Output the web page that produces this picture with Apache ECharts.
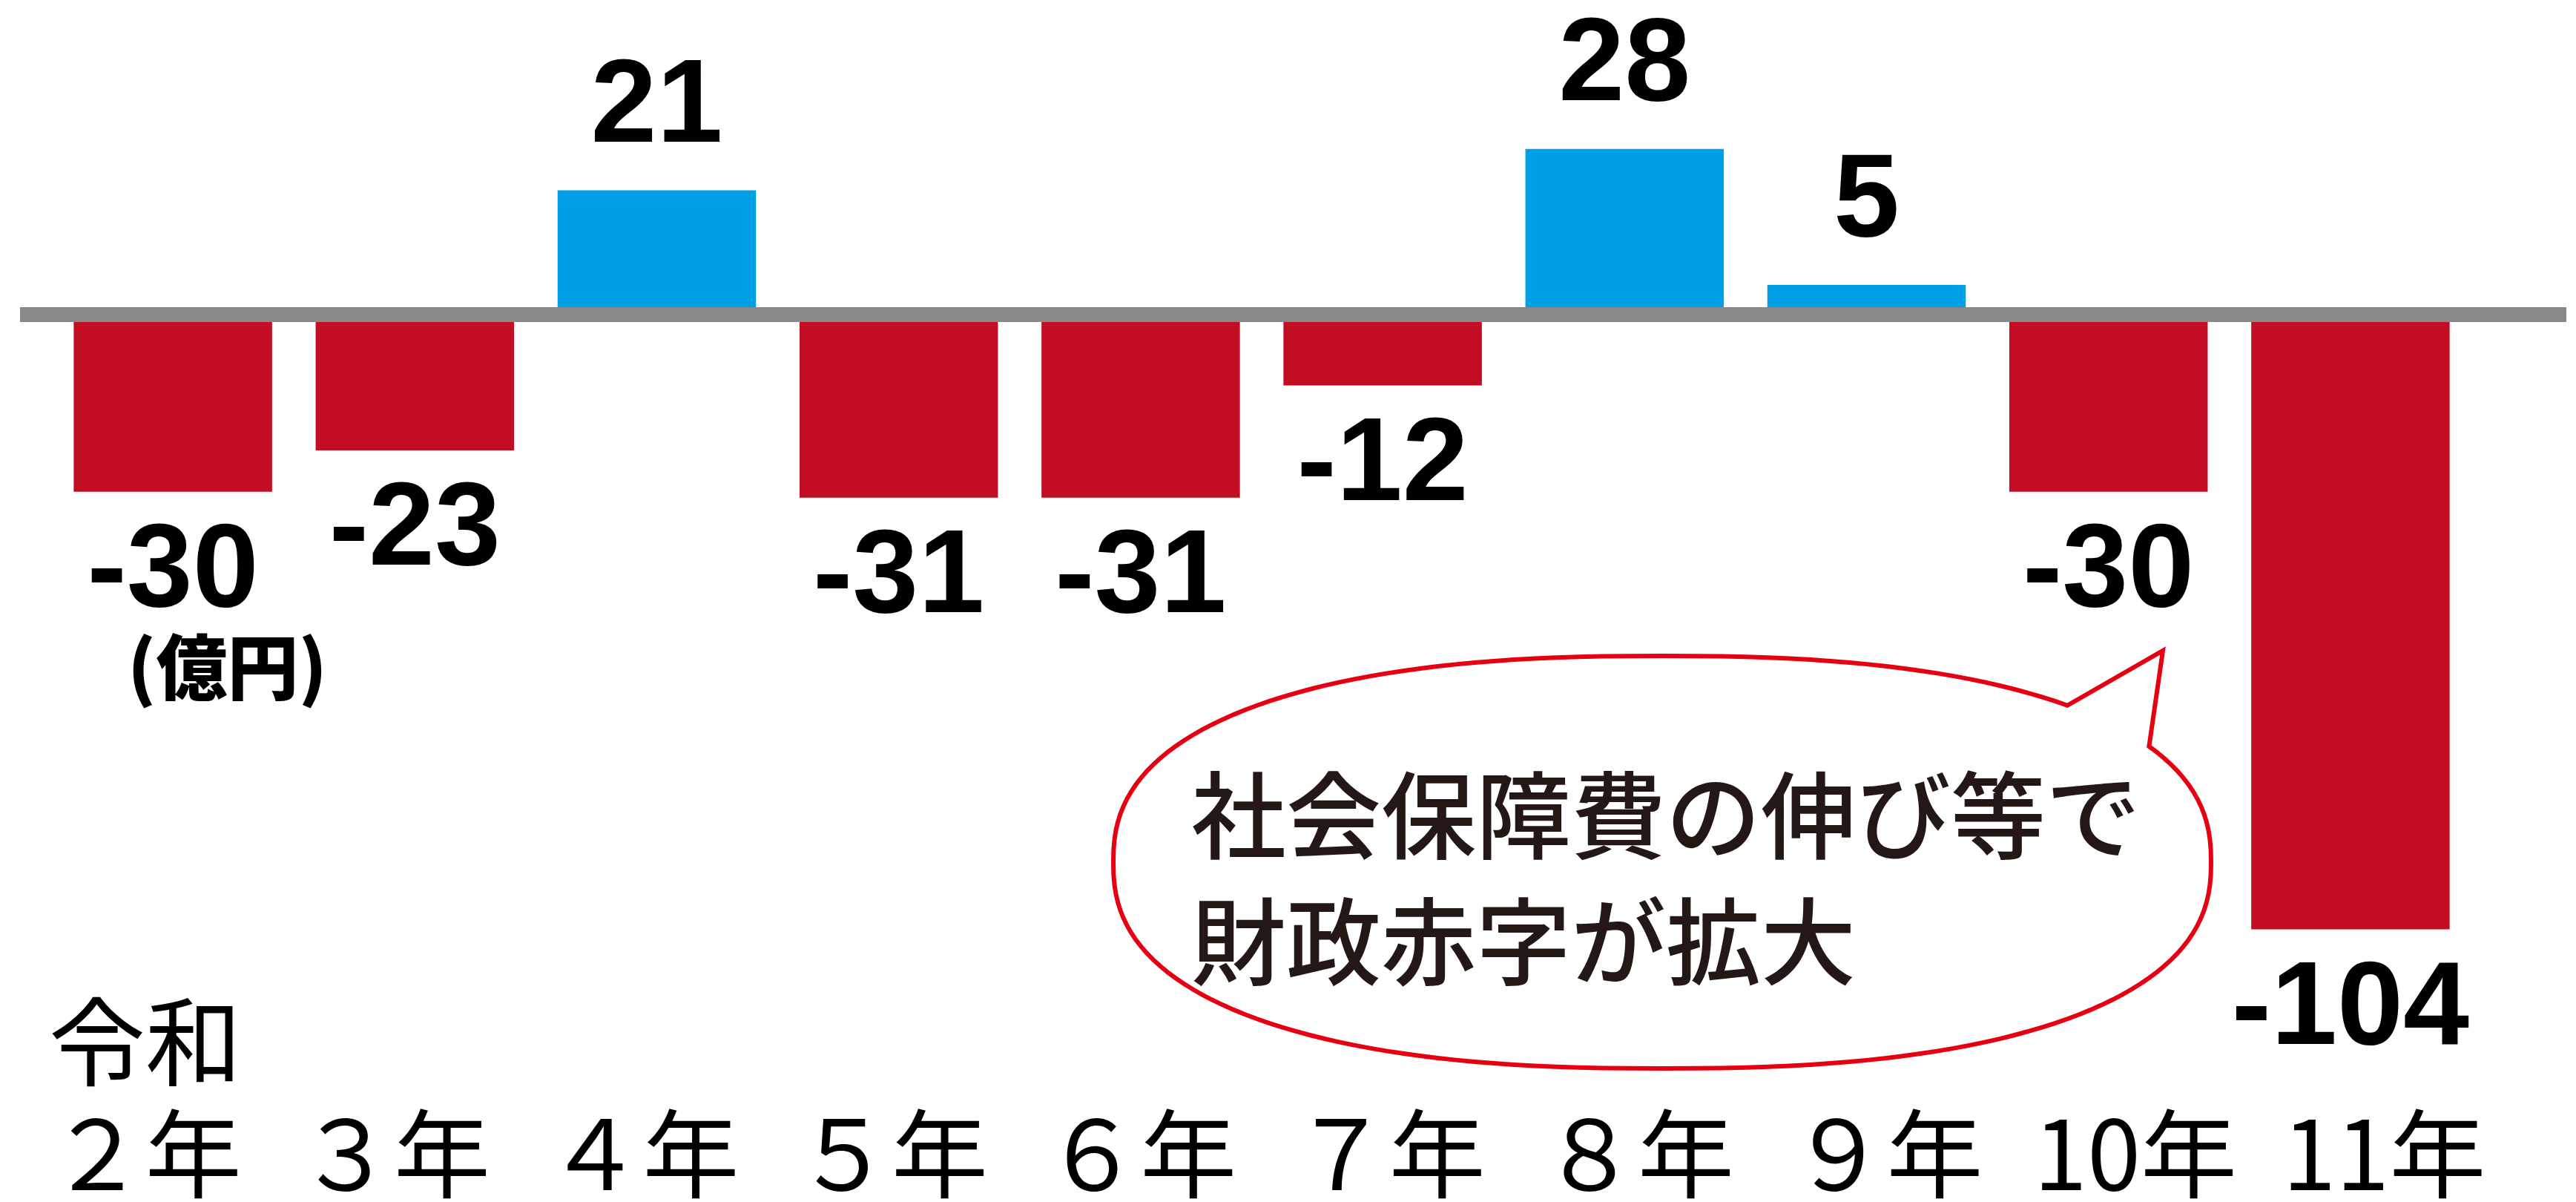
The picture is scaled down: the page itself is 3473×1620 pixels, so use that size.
<!DOCTYPE html>
<html>
<head>
    <meta charset="utf-8">
    <title>財政収支</title>
    <script type="text/javascript" src="https://cdn.jsdelivr.net/npm/echarts@6.0.0/dist/echarts.min.js"></script>
    <style>
        html, body { margin: 0; padding: 0; background: #fff; }
    </style>
</head>
<body>

<div id="demo1" style="width: 3473px; height: 1620px;"></div>

<script>
    // 年度（令和）と収支（億円）
    var years = ['２年', '３年', '４年', '５年', '６年', '７年', '８年', '９年', '10年', '11年'];
    var balance = [-30, -23, 21, -31, -31, -12, 28, 5, -30, -104];
    var yMin = -120;
    var yMax = 40;

    var RED = '#c30d23';
    var BLUE = '#00a0e6';
    var GRAY = '#898989';

    var barData = balance.map(function (v) {
        return {
            value: v,
            itemStyle: {color: v >= 0 ? BLUE : RED},
            label: {position: v >= 0 ? 'top' : 'bottom'}
        };
    });

    // 吹き出し（ふちの形）
    function bubblePoints() {
        var cx = 2241, cy = 1162, a = 740, b = 278, n = 2.4;
        var pts = [];
        for (var d = -30; d <= 315; d += 2) {
            var t = d * Math.PI / 180;
            var c = Math.cos(t), s = Math.sin(t);
            var x = cx + a * Math.sign(c) * Math.pow(Math.abs(c), 2 / n);
            var y = cy + b * Math.sign(s) * Math.pow(Math.abs(s), 2 / n);
            pts.push([x, y]);
        }
        pts.push([2916, 877]);
        return pts;
    }

    var demo1 = echarts.init(document.getElementById('demo1'));
    var option = {
        backgroundColor: '#fff',
        animation: false,
        grid: [
            {left: 70, right: 141, top: 105, bottom: 240},
            {left: 27, right: 13, top: 105, bottom: 240},
            {left: 28, right: 91, top: 1380, bottom: 139}
        ],
        xAxis: [
            {gridIndex: 0, type: 'category', data: years, show: false},
            {
                gridIndex: 1, type: 'category', data: [''], z: 10,
                axisLine: {show: true, onZero: true, lineStyle: {color: GRAY, width: 20, cap: 'butt'}},
                axisTick: {show: false}, axisLabel: {show: false}, splitLine: {show: false}
            },
            {
                gridIndex: 2, type: 'category', data: years,
                axisLine: {show: false}, axisTick: {show: false},
                axisLabel: {
                    interval: 0, margin: 10, color: '#000', fontSize: 130, lineHeight: 130,
                    fontFamily: '"Noto Sans CJK JP"', fontWeight: 'normal'
                }
            }
        ],
        yAxis: [
            {gridIndex: 0, type: 'value', min: yMin, max: yMax, show: false},
            {gridIndex: 1, type: 'value', min: yMin, max: yMax, show: false},
            {gridIndex: 2, type: 'value', min: 0, max: 1, show: false}
        ],
        series: [{
            type: 'bar',
            xAxisIndex: 0,
            yAxisIndex: 0,
            barWidth: '82%',
            data: barData,
            label: {
                show: true,
                distance: 30,
                color: '#000',
                fontFamily: '"Liberation Sans", Arial, sans-serif',
                fontWeight: 'bold',
                fontSize: 160,
                lineHeight: 160
            }
        }],
        graphic: [
            {
                type: 'text',
                style: {
                    text: '令和', x: 66, y: 1404, verticalAlign: 'middle',
                    font: '400 130px "Noto Sans CJK JP"', fill: '#000'
                }
            },
            {
                type: 'text',
                style: {
                    text: '(億円)', x: 172, y: 899, verticalAlign: 'middle',
                    font: '900 96px "Noto Sans CJK JP"', fill: '#000'
                }
            },
            {
                type: 'polygon',
                shape: {points: bubblePoints()},
                style: {fill: 'none', stroke: '#e60012', lineWidth: 6, lineJoin: 'miter'}
            },
            {
                type: 'text',
                style: {
                    text: '社会保障費の伸び等で\n財政赤字が拡大', x: 1606, y: 1014,
                    verticalAlign: 'top', lineHeight: 170,
                    font: '500 128px "Noto Sans CJK JP"', fill: '#231815'
                }
            }
        ]
    };
    demo1.setOption(option);
</script>

</body>
</html>
